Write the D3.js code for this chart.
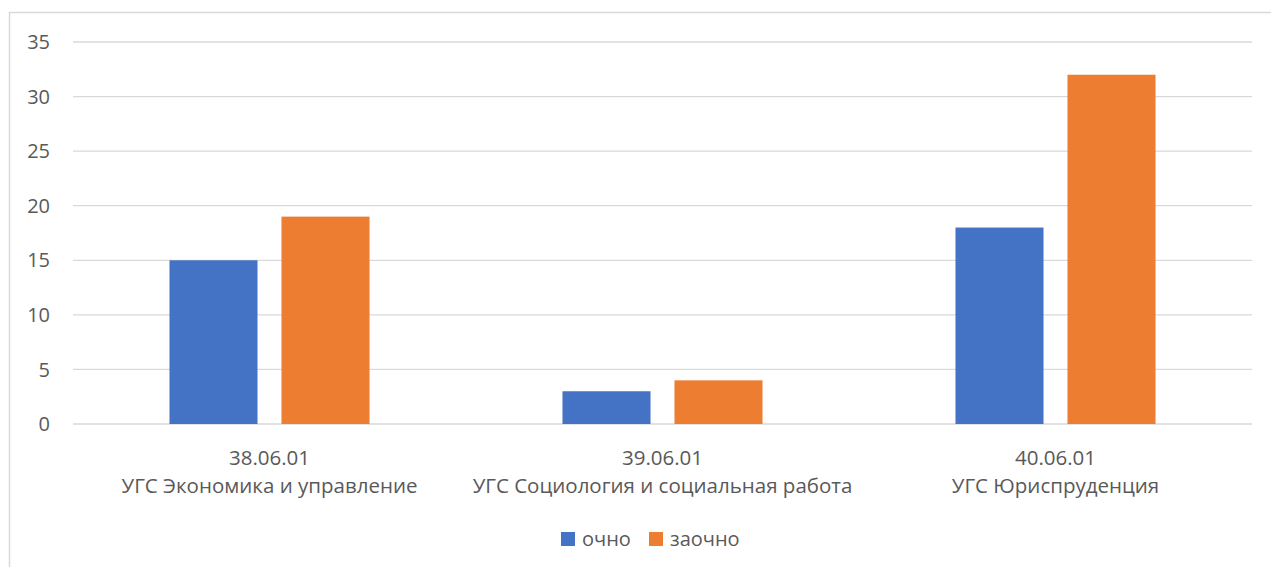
<!DOCTYPE html>
<html lang="ru">
<head>
<meta charset="utf-8">
<title>Chart</title>
<script src="https://d3js.org/d3.v7.min.js"></script>
<style>
  body { margin: 0; background: #fff; }
  text { font-family: "Open Sans", "Noto Sans", sans-serif; fill: #595959; }
</style>
</head>
<body>
<div class="chart"></div>
<script>
// data
const codes = ['38.06.01', '39.06.01', '40.06.01'];
const names = ['УГС Экономика и управление', 'УГС Социология и социальная работа', 'УГС Юриспруденция'];
const seriesNames = ['очно', 'заочно'];
const ochno = [15, 3, 18];
const zaochno = [19, 4, 32];
const yTicks = [0, 5, 10, 15, 20, 25, 30, 35];
const colors = ['#4472C4', '#ED7D31'];

const width = 1271, height = 567;
const margin = {top: 42, right: 19, bottom: 143, left: 73};

const svg = d3.select('.chart').append('svg')
    .attr('width', width)
    .attr('height', height);

// chart border (right and bottom edges fall outside the picture)
svg.append('rect')
    .attr('x', 9.5).attr('y', 12.5)
    .attr('width', 1300).attr('height', 600)
    .attr('fill', 'none')
    .attr('stroke', '#d9d9d9')
    .attr('stroke-width', 1.5);

const x0 = d3.scaleBand()
    .domain(codes)
    .range([margin.left, width - margin.right])
    .paddingInner(0.491)
    .paddingOuter(0.2455);

const x1 = d3.scaleBand()
    .domain(seriesNames)
    .range([0, x0.bandwidth()])
    .paddingInner(0.214);

const y = d3.scaleLinear()
    .domain([0, 35])
    .range([height - margin.bottom, margin.top]);

// gridlines
svg.append('g')
    .selectAll('line')
    .data(yTicks)
    .join('line')
    .attr('x1', margin.left)
    .attr('x2', width - margin.right)
    .attr('y1', d => y(d))
    .attr('y2', d => y(d))
    .attr('stroke', '#d9d9d9')
    .attr('stroke-width', 1.3);

// y labels
svg.append('g')
    .selectAll('text')
    .data(yTicks)
    .join('text')
    .attr('x', 50)
    .attr('y', d => y(d))
    .attr('dy', '0.36em')
    .attr('text-anchor', 'end')
    .style('font-size', '20px')
    .text(d => d);

const rows = codes.map((c, i) => ({code: c, values: [ochno[i], zaochno[i]]}));

// bars
svg.append('g')
    .selectAll('g')
    .data(rows)
    .join('g')
    .attr('transform', d => `translate(${x0(d.code)},0)`)
    .selectAll('rect')
    .data(d => d.values.map((v, j) => ({key: seriesNames[j], value: v, j})))
    .join('rect')
    .attr('x', d => x1(d.key))
    .attr('width', x1.bandwidth())
    .attr('y', d => y(d.value))
    .attr('height', d => y(0) - y(d.value))
    .attr('fill', d => colors[d.j]);

// category labels
const cat = svg.append('g')
    .selectAll('text')
    .data(codes)
    .join('text')
    .attr('x', d => x0(d) + x0.bandwidth() / 2)
    .attr('y', 465)
    .attr('text-anchor', 'middle')
    .style('font-size', '20.5px');
cat.append('tspan').text(d => d);
cat.append('tspan')
    .attr('x', d => x0(d) + x0.bandwidth() / 2)
    .attr('dy', 28)
    .text((d, i) => names[i]);

// legend
const legendX = [561, 649];
const legend = svg.append('g')
    .selectAll('g')
    .data(seriesNames)
    .join('g')
    .attr('transform', (d, i) => `translate(${legendX[i]},532)`);
legend.append('rect')
    .attr('width', 14).attr('height', 14)
    .attr('fill', (d, i) => colors[i]);
legend.append('text')
    .attr('x', 21)
    .attr('y', 7)
    .attr('dy', '0.36em')
    .style('font-size', '20px')
    .text(d => d);
</script>
</body>
</html>
